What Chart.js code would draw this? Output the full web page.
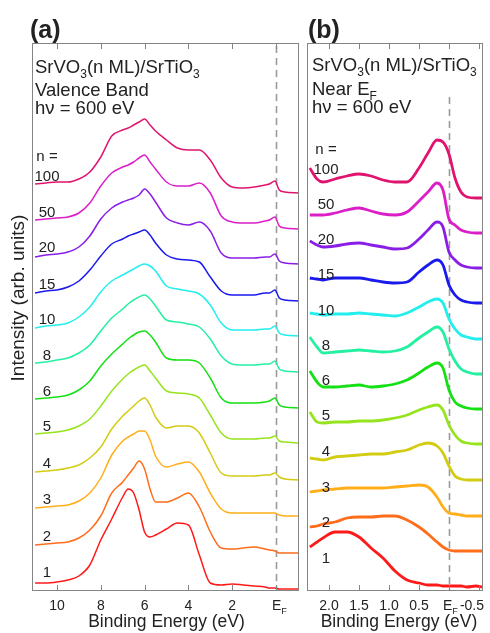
<!DOCTYPE html>
<html lang="en">
<head>
<meta charset="utf-8">
<title>SrVO3(n ML)/SrTiO3 photoemission</title>
<style>
  body { margin: 0; background: #fff; }
  #wrap { position: relative; width: 490px; height: 633px; }
  #chartA { position: absolute; left: 0; top: 0; }
  #chartB { position: absolute; left: 303px; top: 0; }
</style>
</head>
<body>
<div id="wrap">
  <canvas id="chartA" width="303" height="633"></canvas>
  <canvas id="chartB" width="187" height="633"></canvas>
</div>

<script src="https://cdn.jsdelivr.net/npm/chart.js@4.4.1/dist/chart.umd.min.js"></script>
<script>
// ---- data (intensity in arb. units) ----
const layers = ['1', '2', '3', '4', '5', '6', '8', '10', '15', '20', '50', '100'];

// (a) valence band, binding energy in eV
const energyA = [11, 10.5, 10, 9.5, 9, 8.5, 8, 7.5, 7, 6.75, 6.5, 6.25, 6, 5.75, 5.5, 5, 4.5, 4, 3.5, 3, 2.5, 2, 1.5, 1, 0.5, 0.3, 0.05, -0.15, -0.4, -1.05];
const vb1   = [6, 6, 7, 9, 13, 24, 49, 70, 92, 100, 96, 79, 57, 52, 54, 60, 66, 64, 34, 6, 4, 5, 4, 3, 2, 1, 1, 0, 0, 0];
const vb2   = [8, 9, 10, 11, 15, 23, 37, 60, 71, 78, 85, 92, 84, 64, 51, 51, 55, 60, 46, 21, 5, 4, 5, 6, 4, 3, 2, 0, 0, 0];
const vb3   = [8, 9, 10, 11, 15, 23, 38, 61, 75, 79, 82, 85, 85, 76, 60, 49, 52, 54, 44, 23, 7, 3, 3, 3, 3, 3, 3, 1, 0, 0];
const vb4   = [8, 9, 10, 12, 15, 22, 33, 51, 64, 69, 74, 79, 82, 75, 63, 52, 54, 54, 47, 27, 7, 4, 4, 4, 5, 5, 7, 3, 1, 0];
const vb5   = [9, 10, 11, 13, 17, 24, 37, 52, 64, 69, 73, 76, 78, 72, 65, 52, 50, 49, 45, 28, 10, 4, 4, 4, 5, 5, 7, 2, 1, 0];
const vb6   = [9, 10, 11, 13, 18, 27, 42, 54, 64, 69, 73, 76, 77, 73, 66, 50, 48, 48, 45, 30, 10, 5, 5, 5, 6, 7, 10, 3, 1, 0];
const vb8   = [9, 10, 12, 14, 19, 27, 41, 54, 63, 68, 72, 75, 77, 73, 66, 52, 50, 48, 45, 33, 16, 8, 7, 7, 8, 8, 11, 3, 1, 0];
const vb10  = [8, 10, 11, 13, 19, 29, 44, 55, 61, 64, 67, 70, 72, 70, 65, 50, 47, 45, 42, 31, 13, 6, 6, 6, 7, 7, 10, 3, 1, 0];
const vb15  = [8, 10, 11, 14, 20, 31, 45, 57, 62, 65, 67, 69, 71, 66, 58, 46, 42, 41, 39, 24, 10, 6, 6, 6, 8, 8, 11, 3, 1, 0];
const vb20  = [7, 9, 10, 12, 17, 28, 45, 56, 62, 64, 66, 69, 75, 70, 62, 46, 41, 39, 42, 33, 11, 6, 6, 6, 7, 7, 10, 3, 1, 0];
const vb50  = [9, 10, 11, 12, 16, 26, 43, 56, 62, 64, 67, 71, 74, 67, 60, 47, 43, 43, 46, 36, 13, 7, 6, 6, 8, 9, 12, 3, 1, 0];
const vb100 = [9, 10, 11, 11, 14, 21, 36, 57, 63, 65, 68, 71, 74, 68, 62, 53, 45, 43, 43, 33, 15, 6, 5, 6, 8, 9, 12, 3, 1, 0];
const offsetA = [2, 38, 75, 111, 148, 183, 219, 255, 290, 327, 362, 398];

// (b) near E_F
const energyB = [2.32, 2.2, 2.1, 1.9, 1.7, 1.5, 1.3, 1.1, 0.9, 0.7, 0.5, 0.35, 0.2, 0.1, 0, -0.1, -0.2, -0.3, -0.45, -0.55];
const ef1   = [40, 45, 49, 55, 55, 50, 39, 29, 16, 7, 4, 2, 2, 1, 1, 1, 1, 0, 1, 0];
const ef2   = [24, 25, 27, 29, 33, 34, 34, 35, 35, 31, 24, 17, 9, 4, 1, 0, 0, 0, 0, 0];
const ef3   = [24, 25, 26, 27, 28, 28, 28, 28, 29, 30, 31, 29, 19, 9, 3, 2, 1, 0, 0, 0];
const ef4   = [22, 21, 20, 23, 24, 25, 26, 26, 28, 30, 35, 37, 34, 27, 14, 4, 1, 0, 0, 0];
const ef5   = [32, 22, 21, 22, 22, 23, 23, 24, 26, 29, 34, 37, 39, 34, 19, 9, 3, 1, 0, 0];
const ef6   = [38, 27, 22, 22, 23, 24, 22, 23, 25, 29, 36, 42, 46, 41, 19, 7, 3, 1, 0, 0];
const ef8   = [37, 27, 21, 22, 23, 24, 23, 22, 23, 27, 36, 42, 47, 42, 25, 13, 5, 2, 0, 0];
const ef10  = [26, 25, 24, 25, 25, 26, 25, 24, 23, 26, 32, 37, 40, 36, 20, 10, 4, 2, 0, 0];
const ef15  = [25, 24, 23, 25, 25, 25, 23, 21, 20, 21, 31, 38, 43, 38, 18, 8, 3, 1, 0, 0];
const ef20  = [27, 23, 21, 22, 24, 25, 23, 21, 19, 20, 29, 38, 46, 41, 16, 8, 3, 1, 0, 0];
const ef50  = [18, 18, 18, 20, 23, 25, 22, 19, 18, 21, 32, 41, 50, 43, 14, 8, 3, 1, 0, 0];
const ef100 = [30, 19, 16, 19, 22, 24, 22, 18, 16, 16, 30, 45, 58, 56, 44, 20, 6, 1, 0, 0];
const offsetB = [4, 40, 75, 111, 147, 182, 217, 252, 288, 323, 358, 393];

const ticksA = [10, 8, 6, 4, 2, 0];
const ticksB = [2, 1.5, 1, 0.5, 0, -0.5];

// ---- styles ----
const lineColors = ['#ff1a1a', '#ff6c1a', '#ffae1a', '#d2cc12', '#96e41e', '#14e014',
                    '#24f0a2', '#22eeee', '#1a1aee', '#8a1ee6', '#dc1ec8', '#e0146e'];
const FONT = '"Liberation Sans", Arial, sans-serif';
const INK = '#222';

// draws text pieces, pieces marked true are subscripts
function rich(ctx, parts, x, y, size) {
  parts.forEach(([t, sub]) => {
    const s = sub ? Math.round(size * 0.66) : size;
    ctx.font = s + 'px ' + FONT;
    ctx.fillText(t, x, y + (sub ? size * 0.27 : 0));
    x += ctx.measureText(t).width;
  });
}

function makeSets(energies, series, offsets, width) {
  return series.map((vals, i) => ({
    label: 'n = ' + layers[i],
    data: vals.map((v, k) => ({ x: energies[k], y: v + offsets[i] })),
    borderColor: lineColors[i],
    borderWidth: width,
    pointRadius: 0,
    cubicInterpolationMode: 'monotone',
    fill: false
  }));
}

function panelPlugin(cfg) {
  return {
    id: 'panel',
    beforeDatasetsDraw(chart) {
      const { ctx, chartArea: a, scales: { x } } = chart;
      const xf = Math.round(x.getPixelForValue(0)) + 0.5;
      ctx.save();
      ctx.strokeStyle = '#9a9a9a';
      ctx.lineWidth = 1.6;
      ctx.setLineDash([7, 5]);
      ctx.beginPath();
      ctx.moveTo(xf, cfg.dashTop || a.top + 3);
      ctx.lineTo(xf, a.bottom);
      ctx.stroke();
      ctx.restore();
    },
    afterDraw(chart) {
      const { ctx, chartArea: a, scales: { x, y } } = chart;
      ctx.save();
      // frame + inward ticks
      ctx.strokeStyle = '#858585';
      ctx.lineWidth = 1;
      ctx.strokeRect(a.left + 0.5, a.top + 0.5, a.right - a.left - 1, a.bottom - a.top - 1);
      ctx.beginPath();
      cfg.ticks.forEach(v => {
        const px = Math.round(x.getPixelForValue(v)) + 0.5;
        ctx.moveTo(px, a.top); ctx.lineTo(px, a.top + 6);
        ctx.moveTo(px, a.bottom); ctx.lineTo(px, a.bottom - 6);
      });
      ctx.stroke();

      ctx.fillStyle = INK;
      ctx.textBaseline = 'alphabetic';
      // tick labels
      ctx.font = '14px ' + FONT;
      cfg.ticks.forEach(v => {
        const px = x.getPixelForValue(v);
        if (v === 0) {
          ctx.textAlign = 'left';
          rich(ctx, [['E'], ['F', true]], px + cfg.efShift, a.bottom + 19, 14);
        } else if (v < 0) {
          ctx.textAlign = 'right';
          ctx.font = '14px ' + FONT;
          ctx.fillText(cfg.fmt(v), a.right + 1, a.bottom + 19);
        } else {
          ctx.textAlign = 'center';
          ctx.font = '14px ' + FONT;
          ctx.fillText(cfg.fmt(v), px, a.bottom + 19);
        }
      });
      // axis title
      ctx.textAlign = 'center';
      ctx.font = '17.5px ' + FONT;
      ctx.fillText('Binding Energy (eV)', (a.left + a.right) / 2 + cfg.titleShift, a.bottom + 36);
      if (cfg.yTitle) {
        ctx.save();
        ctx.translate(18, (a.top + a.bottom) / 2 - 19);
        ctx.rotate(-Math.PI / 2);
        ctx.font = '19px ' + FONT;
        ctx.fillText('Intensity (arb. units)', 0, 6);
        ctx.restore();
      }
      // panel letter
      ctx.textAlign = 'left';
      ctx.font = 'bold 25px ' + FONT;
      ctx.fillText(cfg.letter, a.left + cfg.letterDx, 38);
      // annotation lines
      cfg.notes.forEach(n => rich(ctx, n.parts, a.left + cfg.noteDx, n.y, 18.5));
      // curve labels
      ctx.textAlign = 'center';
      ctx.font = '15px ' + FONT;
      cfg.offsets.forEach((o, i) => {
        ctx.fillText(layers[i], a.left + cfg.labelDx, y.getPixelForValue(o + cfg.labelLift));
      });
      const top = y.getPixelForValue(cfg.offsets[cfg.offsets.length - 1] + cfg.labelLift);
      ctx.fillText('n =', a.left + cfg.labelDx, top - 20);
      ctx.restore();
    }
  };
}

function makeChart(id, datasets, xmin, xmax, pad, cfg) {
  return new Chart(document.getElementById(id), {
    type: 'line',
    data: { datasets },
    options: {
      responsive: false,
      animation: false,
      events: [],
      layout: { padding: pad },
      scales: {
        x: { type: 'linear', reverse: true, min: xmin, max: xmax, display: false },
        y: { min: 0, max: 548, display: false }
      },
      plugins: { legend: { display: false }, tooltip: { enabled: false } }
    },
    plugins: [panelPlugin(cfg)]
  });
}

const seriesA = [vb1, vb2, vb3, vb4, vb5, vb6, vb8, vb10, vb15, vb20, vb50, vb100];
const seriesB = [ef1, ef2, ef3, ef4, ef5, ef6, ef8, ef10, ef15, ef20, ef50, ef100];

makeChart('chartA', makeSets(energyA, seriesA, offsetA, 1.5), -1.05, 11.14,
  { left: 32, right: 4, top: 43, bottom: 42 },
  {
    ticks: ticksA, fmt: v => String(v), efShift: -4, titleShift: 1, yTitle: true,
    letter: '(a)', letterDx: -2, noteDx: 3,
    notes: [
      { y: 73, parts: [['SrVO'], ['3', true], ['(n ML)/SrTiO'], ['3', true]] },
      { y: 96, parts: [['Valence Band']] },
      { y: 114, parts: [['h\u03bd = 600 eV']] }
    ],
    offsets: offsetA, labelLift: 12, labelDx: 15
  });

makeChart('chartB', makeSets(energyB, seriesB, offsetB, 2.8), -0.567, 2.367,
  { left: 4, right: 7, top: 43, bottom: 42 },
  {
    ticks: ticksB, fmt: v => v.toFixed(1), efShift: -6, titleShift: 4, yTitle: false,
    letter: '(b)', letterDx: 1, noteDx: 5, dashTop: 97,
    notes: [
      { y: 71, parts: [['SrVO'], ['3', true], ['(n ML)/SrTiO'], ['3', true]] },
      { y: 95, parts: [['Near E'], ['F', true]] },
      { y: 113, parts: [['h\u03bd = 600 eV']] }
    ],
    offsets: offsetB, labelLift: 24, labelDx: 19
  });
</script>
</body>
</html>
